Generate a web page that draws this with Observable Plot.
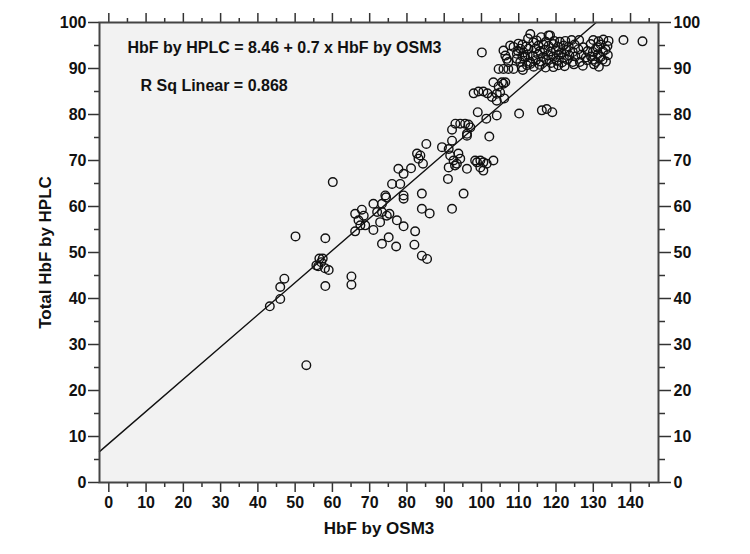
<!DOCTYPE html>
<html><head><meta charset="utf-8">
<script src="https://cdn.jsdelivr.net/npm/d3@7"></script>
<script src="https://cdn.jsdelivr.net/npm/@observablehq/plot@0.6"></script>
<style>
html,body{margin:0;padding:0;background:#fff;}
#chart svg{display:block;}
</style>
</head><body><div id="chart"></div>
<script>
// HbF by OSM3 (x) and Total HbF by HPLC (y)
const osm3 = [
  43.2,46.0,46.0,47.1,50.1,53.0,55.7,56.5,57.4,57.0,56.2,58.0,58.1,58.1,59.0,60.1,65.1,65.1,
  66.1,67.9,68.4,67.0,67.5,68.8,66.1,
  71.0,73.3,74.2,72.0,73.3,74.6,71.0,72.8,73.3,75.1,77.1,75.3,77.3,79.1,82.2,82.0,84.0,85.4,
  76.0,78.2,77.7,79.1,81.1,79.1,79.1,84.0,84.0,86.1,74.4,
  82.7,83.6,84.3,85.2,83.1,
  89.4,91.2,92.1,91.6,92.5,93.8,93.4,91.2,91.0,96.1,95.2,92.1,96.1,98.8,98.3,
  99.7,100.5,101.4,99.7,103.2,100.5,92.9,94.3,
  93.0,94.3,95.6,96.5,97.0,92.1,96.1,102.1,
  99.0,101.3,104.1,110.1,116.2,117.5,119.0,
  97.9,99.2,100.5,101.6,102.8,104.1,105.0,105.9,104.1,103.2,105.5,106.4,104.6,106.1,
  104.6,105.9,107.2,108.6,111.1,113.1,
  100.1,105.9,106.4,106.8,107.2,107.7,109.9,110.4,108.6,
  113.1,118.0,124.2,126.2,138.1,143.2,
  112.5,114.8,116.0,117.3,118.4,119.5,121.0,122.5,130.0,131.4,132.7,134.1,
  111.0,112.0,113.9,115.3,116.6,118.0,119.3,120.5,122.0,123.4,125.0,127.3,129.3,131.1,132.0,133.8,
  109.8,111.3,112.6,114.4,115.7,117.0,118.6,120.0,121.4,122.8,124.5,126.0,128.5,129.9,130.6,132.6,133.3,
  109.5,111.0,112.4,113.8,115.2,116.5,117.9,119.2,120.7,122.1,123.6,125.2,126.8,128.0,129.4,131.2,132.0,133.9,
  109.5,110.4,111.7,113.1,114.6,116.0,117.4,118.7,120.2,121.6,123.0,124.5,126.4,128.3,129.8,130.7,132.5,133.4,
  110.8,112.2,114.0,115.6,117.2,119.3,120.6,122.3,124.8,127.2,130.2,131.5
];
const hplc = [
  38.3,39.9,42.5,44.3,53.5,25.5,47.2,48.7,48.7,47.9,47.0,46.6,53.1,42.7,46.2,65.3,44.8,43.0,
  58.4,59.3,58.0,57.0,55.9,55.9,54.6,
  60.6,60.6,62.4,58.8,58.8,58.0,54.9,56.6,51.9,53.3,51.3,58.4,57.0,55.7,54.6,51.7,49.3,48.6,
  64.9,64.9,68.2,67.1,68.3,62.4,61.7,62.8,59.5,58.5,62.0,
  71.5,71.1,69.3,73.6,70.4,
  72.9,72.5,74.3,71.1,70.0,71.5,69.3,68.5,66.0,68.2,62.8,59.5,75.8,69.6,70.0,
  70.0,69.6,69.3,68.5,70.0,67.8,68.9,70.4,
  78.0,78.0,78.0,77.8,77.2,76.7,75.4,75.2,
  80.5,79.1,79.8,80.2,80.9,81.2,80.5,
  84.6,85.0,85.0,84.6,83.8,84.5,84.8,86.7,83.0,87.0,87.0,87.0,86.1,83.5,
  89.9,89.9,89.9,89.9,89.7,91.0,
  93.5,93.9,92.8,92.1,91.4,95.0,95.4,94.3,94.7,
  97.5,97.2,96.2,96.2,96.2,95.9,
  96.5,96.1,96.8,95.8,97.2,96.0,95.8,96.0,96.2,95.9,96.3,96.0,
  95.2,94.8,95.7,95.0,95.2,94.9,95.3,94.7,95.0,94.8,95.2,94.6,95.3,94.6,95.2,94.9,
  93.8,93.5,94.3,94.3,93.8,94.1,93.7,93.9,93.5,94.0,93.6,94.2,93.8,93.6,94.2,93.7,94.1,
  93.2,92.6,93.0,92.7,93.1,92.5,92.9,92.6,93.0,92.4,92.8,92.6,93.0,92.4,92.6,93.1,92.5,92.9,
  92.1,91.4,92.5,91.4,91.8,91.5,91.9,91.2,91.7,91.3,91.9,91.4,91.4,91.8,91.9,91.4,91.9,91.5,
  90.3,90.7,90.4,90.8,90.2,90.3,90.7,90.5,90.9,90.6,90.9,90.4
];
const intercept = 8.46;
const slope = 0.7;
const equationText = "HbF by HPLC = 8.46 + 0.7 x HbF by OSM3";
const rsqText = "R Sq Linear = 0.868";
const xTitle = "HbF by OSM3";
const yTitle = "Total HbF by HPLC";
const xMajor = [0,10,20,30,40,50,60,70,80,90,100,110,120,130,140];
const xMinor = [5,15,25,35,45,55,65,75,85,95,105,115,125,135,145];
const yMajor = [0,10,20,30,40,50,60,70,80,90,100];
const yMinor = [5,15,25,35,45,55,65,75,85,95];
const xDomain = [-2.5, 147.5];
const yDomain = [0, 100];

const points = osm3.map((x, i) => ({x, y: hplc[i]}));
const xEnd = (yDomain[1] - intercept) / slope;
const fit = [xDomain[0], xEnd].map(x => ({x, y: intercept + slope * x}));
const blank = () => "";
const tickStroke = "#333";

const chart = Plot.plot({
  width: 750, height: 554,
  marginLeft: 99, marginRight: 92, marginTop: 22, marginBottom: 72,
  style: {fontFamily: "'Liberation Sans', Arial, sans-serif", fontWeight: "bold", fontSize: "16px", color: "#111", background: "#fff"},
  x: {domain: xDomain},
  y: {domain: yDomain},
  marks: [
    Plot.frame({fill: "#f2f2f2"}),
    Plot.axisX({anchor: "bottom", ticks: xMajor, tickSize: 10, tickPadding: 4, label: null, stroke: tickStroke, strokeWidth: 1.5, fontSize: 16}),
    Plot.axisX({anchor: "bottom", ticks: xMinor, tickSize: 5, tickFormat: blank, label: null, stroke: tickStroke, strokeWidth: 1.5}),
    Plot.axisX({anchor: "top", ticks: xMajor, tickSize: 10, tickFormat: blank, label: null, stroke: tickStroke, strokeWidth: 1.5}),
    Plot.axisX({anchor: "top", ticks: xMinor, tickSize: 5, tickFormat: blank, label: null, stroke: tickStroke, strokeWidth: 1.5}),
    Plot.axisY({anchor: "left", ticks: yMajor, tickSize: 11, tickPadding: 2, label: null, stroke: tickStroke, strokeWidth: 1.5, fontSize: 16}),
    Plot.axisY({anchor: "left", ticks: yMinor, tickSize: 5, tickFormat: blank, label: null, stroke: tickStroke, strokeWidth: 1.5}),
    Plot.axisY({anchor: "right", ticks: yMajor, tickSize: 12, tickPadding: 3, label: null, stroke: tickStroke, strokeWidth: 1.5, fontSize: 16}),
    Plot.axisY({anchor: "right", ticks: yMinor, tickSize: 6, tickFormat: blank, label: null, stroke: tickStroke, strokeWidth: 1.5}),
    Plot.line(fit, {x: "x", y: "y", stroke: "#111", strokeWidth: 1.4}),
    Plot.dot(points, {x: "x", y: "y", r: 4.3, stroke: "#111", strokeWidth: 1.4, fill: "none"}),
    Plot.frame({stroke: "#444", strokeWidth: 2}),
    Plot.text([equationText], {frameAnchor: "top-left", dx: 28, dy: 25, textAnchor: "start", lineAnchor: "middle", fontSize: 16, fontWeight: "bold", fill: "#111"}),
    Plot.text([rsqText], {frameAnchor: "top-left", dx: 41, dy: 63, textAnchor: "start", lineAnchor: "middle", fontSize: 16, fontWeight: "bold", fill: "#111"}),
    Plot.text([xTitle], {frameAnchor: "bottom", dy: 46, textAnchor: "middle", lineAnchor: "middle", fontSize: 17, fontWeight: "bold", fill: "#111"}),
    Plot.text([yTitle], {frameAnchor: "left", dx: -54, rotate: -90, textAnchor: "middle", lineAnchor: "middle", fontSize: 17, fontWeight: "bold", fill: "#111"})
  ]
});
document.getElementById("chart").appendChild(chart);
</script>
</body></html>
